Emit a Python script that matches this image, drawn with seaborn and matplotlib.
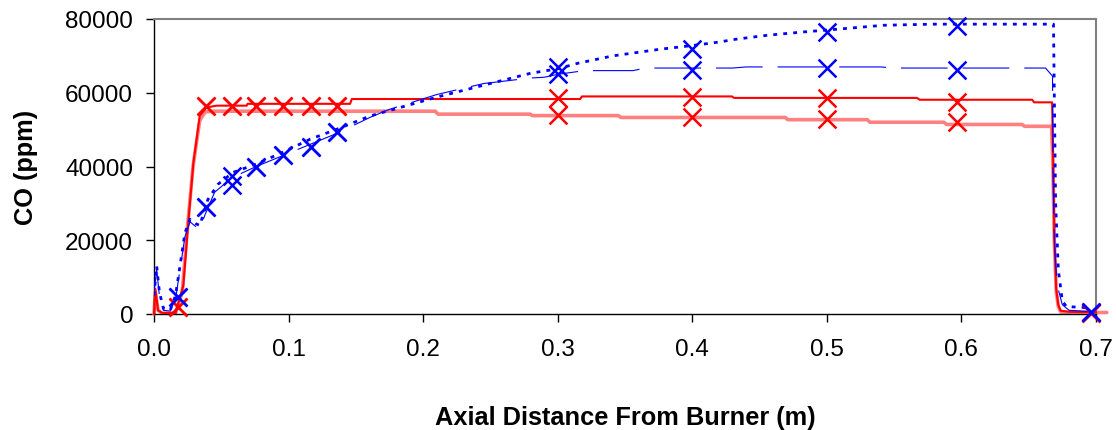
import numpy as np
import pandas as pd
import matplotlib
matplotlib.use("Agg")
import matplotlib.pyplot as plt
import seaborn as sns

# ---------------- data ----------------
x_ticks = [0.0, 0.1, 0.2, 0.3, 0.4, 0.5, 0.6, 0.7]
x_tick_labels = ["0.0", "0.1", "0.2", "0.3", "0.4", "0.5", "0.6", "0.7"]
y_ticks = [0, 20000, 40000, 60000, 80000]
y_tick_labels = ["0", "20000", "40000", "60000", "80000"]

# blue dotted line
blue_dot_x = [0, 0.002, 0.004, 0.007, 0.012, 0.016, 0.0193, 0.023, 0.0268, 0.031, 0.034,
              0.040, 0.0476, 0.0587, 0.0763, 0.096, 0.116, 0.1358, 0.1606, 0.21, 0.28,
              0.30, 0.315, 0.341, 0.376, 0.40, 0.421, 0.43, 0.456, 0.483, 0.51, 0.542,
              0.579, 0.6684, 0.6690, 0.670, 0.672, 0.675, 0.678, 0.69, 0.695]
blue_dot_y = [5000, 13000, 6000, 1500, 1000, 5000, 13000, 22000, 25700, 24500, 24000,
              31000, 35200, 38400, 40700, 43900, 47400, 50100, 53700, 58800, 65300,
              66500, 68000, 70000, 71800, 72800, 73800, 74400, 75600, 76500, 77300, 78300,
              78600, 78600, 60000, 30000, 12000, 3500, 2000, 1800, 1500]

# blue thin long-dashed line
blue_dash_x = [0, 0.002, 0.004, 0.007, 0.012, 0.016, 0.0193, 0.023, 0.0268, 0.030, 0.034,
               0.038, 0.045, 0.058, 0.076, 0.096, 0.116, 0.136, 0.161, 0.175, 0.21, 0.245,
               0.28, 0.29, 0.30, 0.32, 0.356, 0.365, 0.43, 0.44, 0.54, 0.55, 0.6625,
               0.6677, 0.668, 0.669, 0.671, 0.675, 0.68, 0.69, 0.695]
blue_dash_y = [6000, 12000, 5000, 1000, 800, 4000, 12000, 21000, 25000, 24000, 23000,
               27000, 33000, 37000, 40000, 43000, 46000, 49000, 53400, 55500, 59500, 62500,
               64000, 64200, 65000, 66000, 66000, 66700, 66700, 67000, 67000, 66700, 66700,
               64500, 40000, 20000, 8000, 2500, 1000, 800, 700]

# red solid line
red_x = [0, 0.001, 0.003, 0.006, 0.016, 0.0218, 0.0255, 0.0293, 0.034, 0.039, 0.0466,
         0.0689, 0.0695, 0.1457, 0.147, 0.3167, 0.318, 0.4295, 0.431, 0.567, 0.569,
         0.6526, 0.654, 0.6674, 0.668, 0.669, 0.6704, 0.672, 0.6736, 0.68, 0.695, 0.70]
red_y = [0, 6800, 1000, 300, 300, 7700, 25000, 41100, 53800, 56000, 56500,
         56500, 57000, 57000, 58300, 58300, 59000, 59000, 58600, 58600, 58100,
         58100, 57400, 57400, 45000, 22200, 6800, 2500, 900, 600, 500, 500]

# light red (salmon) line
salmon_x = [0, 0.001, 0.003, 0.006, 0.016, 0.021, 0.025, 0.029, 0.034, 0.038, 0.045,
            0.209, 0.211, 0.2796, 0.281, 0.345, 0.347, 0.469, 0.471, 0.530, 0.532,
            0.587, 0.589, 0.645, 0.647, 0.667, 0.668, 0.669, 0.6705, 0.672, 0.674,
            0.68, 0.70, 0.708]
salmon_y = [0, 6000, 1000, 200, 200, 6000, 24000, 40000, 52500, 54800, 55000,
            55000, 54200, 54200, 53800, 53800, 53300, 53300, 52700, 52700, 52000,
            52000, 51400, 51400, 50900, 50900, 40000, 20000, 6000, 2000, 500,
            400, 400, 400]

# measured points (x markers)
pts_x = [0.018, 0.039, 0.058, 0.076, 0.096, 0.117, 0.136, 0.30, 0.40, 0.50, 0.597, 0.696]
blue_pts_a = [4500, 28900, 37300, 40000, 43100, 45400, 49400, 65100, 72000, 76400, 78000, 460]
blue_pts_b = [4500, 28900, 35000, 40000, 43100, 45400, 49400, 66900, 66250, 66640, 66170, 460]
red_pts_c = [1800, 56500, 56500, 56500, 56500, 56500, 56500, 58500, 58800, 58500, 57400, 300]
red_pts_d = [1800, 56500, 56500, 56500, 56500, 56500, 56500, 54000, 53300, 52900, 52000, 300]

# ---------------- plot ----------------
sns.set_theme(style="white")
plt.rcParams["font.family"] = ["Liberation Sans", "DejaVu Sans"]

fig = plt.figure(figsize=(11.16, 4.31), dpi=100)
ax = fig.add_axes([154 / 1116, 1 - 315 / 431, (1096 - 154) / 1116, (315 - 20) / 431])

BLUE = "#0000FF"
RED = "#FF0000"
SALMON = "#FF8080"

sns.lineplot(x=salmon_x, y=salmon_y, sort=False, estimator=None, ax=ax,
             color=SALMON, linewidth=2.6, clip_on=False, zorder=2)
sns.lineplot(x=red_x, y=red_y, sort=False, estimator=None, ax=ax,
             color=RED, linewidth=1.5, clip_on=False, zorder=3)
sns.lineplot(x=blue_dash_x, y=blue_dash_y, sort=False, estimator=None, ax=ax,
             color=BLUE, linewidth=0.8, dashes=False, zorder=4)
ax.lines[-1].set_dashes((42, 13.5))
sns.lineplot(x=blue_dot_x, y=blue_dot_y, sort=False, estimator=None, ax=ax,
             color=BLUE, linewidth=2.0, zorder=5)
ax.lines[-1].set_dashes((1.4, 2.2))
ax.lines[-1].set_dash_capstyle("butt")

for ys, c in [(red_pts_d, RED), (red_pts_c, RED), (blue_pts_b, BLUE), (blue_pts_a, BLUE)]:
    sns.scatterplot(x=pts_x, y=ys, marker="x", s=165, color=c, linewidth=1.8,
                    ax=ax, clip_on=False, zorder=6)

ax.set_xlim(0, 0.7)
ax.set_ylim(0, 80000)
ax.set_xticks(x_ticks)
ax.set_xticklabels(x_tick_labels)
ax.set_yticks(y_ticks)
ax.set_yticklabels(y_tick_labels)
ax.tick_params(axis="both", which="major", direction="out", length=6, width=1,
               color="black", labelsize=17.5, labelcolor="black", pad=9,
               bottom=True, left=True)
ax.tick_params(axis="x", pad=11)

for side in ["left", "bottom"]:
    ax.spines[side].set_color("black")
    ax.spines[side].set_linewidth(1.0)
for side in ["top", "right"]:
    ax.spines[side].set_color("#808080")
    ax.spines[side].set_linewidth(1.5)

ax.set_xlabel("Axial Distance From Burner (m)", fontsize=18.3, fontweight="bold", color="black")
ax.set_ylabel("CO (ppm)", fontsize=18.3, fontweight="bold", color="black")
ax.xaxis.set_label_coords(0.5, -0.31)
ax.yaxis.set_label_coords(-0.123, 0.5)
ax.grid(False)
ax.set_facecolor("white")
fig.patch.set_facecolor("white")

fig.savefig("out.png", dpi=100)
